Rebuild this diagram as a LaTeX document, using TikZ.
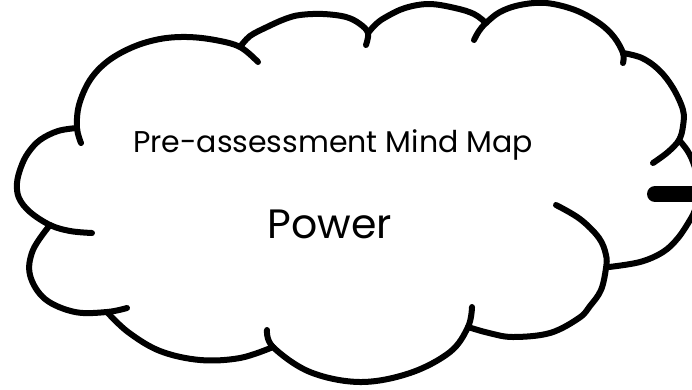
\documentclass[tikz,border=0pt]{standalone}
\usepackage{fontspec}
\setmainfont{Poppins}
\begin{document}
\begin{tikzpicture}
        [x=1pt,y=-1pt,
        cloudline/.style={line width=6pt,line cap=round,line join=round,smooth,tension=0.6},
        leadline/.style={line width=16pt,line cap=round},
        titletext/.style={font=\fontsize{30}{36}\selectfont,anchor=base},
        topictext/.style={font=\fontsize{41}{48}\selectfont,anchor=base}]
        \useasboundingbox (0,0) rectangle (692,389);
        %% cloud, one lobe at a time
        \draw[cloudline] plot coordinates {(81,143) (77,128) (79,105) (90,80) (108,61) (133,47) (160,39) (187,37) (215,40) (240,47) (258,62)};
        \draw[cloudline] plot coordinates {(240,47) (250,36) (267,27) (285,19) (300,15) (323,14) (346,17) (360,24) (368,33) (366,45)};
        \draw[cloudline] plot coordinates {(368,33) (376,24) (386,17) (405,8) (429,4) (455,8) (474,14) (486,23)};
        \draw[cloudline] plot coordinates {(474,40) (479,31) (486,23) (500,12) (520,5) (546,3) (575,10) (599,23) (614,37) (623,53) (623,63)};
        \draw[cloudline] plot coordinates {(623,53) (642,58) (659,70) (673,88) (683,110) (683,126) (679,140) (668,152) (653,163)};
        \draw[cloudline] plot coordinates {(679,140) (687,150) (693,162) (698,180) (698,198) (695,210) (690,220) (678,238) (663,252) (640,262) (609,267)};
        \draw[cloudline] plot coordinates {(556,205) (580,219) (599,238) (606,255) (606,268) (601,290) (590,306) (579,318) (550,333) (513,337) (489,333) (468,327)};
        \draw[cloudline] plot coordinates {(472,307) (468,327) (450,352) (410,373) (360,382) (310,372) (273,347) (267,330)};
        \draw[cloudline] plot coordinates {(273,347) (240,358) (200,360) (160,351) (128,332) (107,312)};
        \draw[cloudline] plot coordinates {(127,308) (107,312) (75,312) (45,299) (30,275) (33,250) (50,225)};
        \draw[cloudline] plot coordinates {(92,233) (70,231) (50,225) (30,212) (19,198) (17,183) (21,167) (28,153) (40,140) (58,131) (77,128)};
        %% texts
        \node[titletext] (title) at (333,152) {Pre-assessment Mind Map};
        \node[topictext] (topic) at (330,238) {Power};
        %% lead out to the right
        \coordinate (leadstart) at (655,194);
        \coordinate (leadend) at (710,194);
        \draw[leadline] (leadstart) -- (leadend);
\end{tikzpicture}
\end{document}
